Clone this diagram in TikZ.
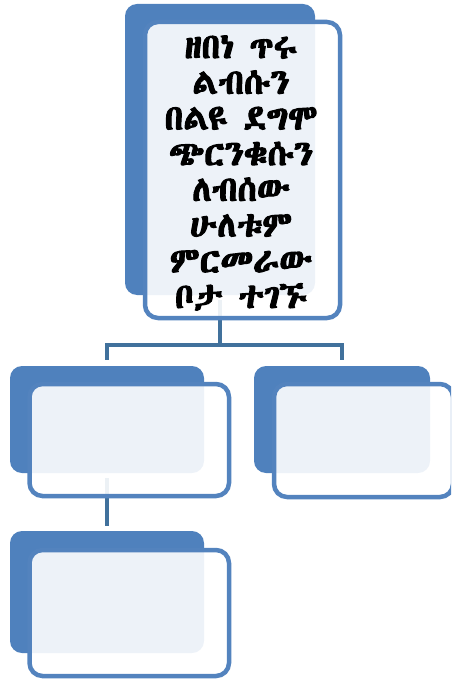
\documentclass[tikz,border=0pt]{standalone}
\usepackage{fontspec}
\IfFontExistsTF{Abyssinica SIL}{\newfontfamily\ethfont[AutoFakeBold=3]{Abyssinica SIL}}{%
  \IfFontExistsTF{FreeSerif}{\newfontfamily\ethfont[AutoFakeBold=3]{FreeSerif}}{\newfontfamily\ethfont{DejaVu Sans}}}
\definecolor{dkblue}{HTML}{4F81BD}
\definecolor{lnblue}{HTML}{41719C}
\definecolor{brblue}{HTML}{5383BE}
\tikzset{
  backbox/.style={fill=dkblue, draw=none, rounded corners=12pt, inner sep=0pt},
  frontbox/.style={fill=white, fill opacity=0.9, draw=brblue, draw opacity=1, line width=4.5pt, rounded corners=13pt, inner sep=0pt},
  conn/.style={draw=lnblue, line width=4pt},
  lbl/.style={align=center, text=black, font=\ethfont\bfseries\fontsize{35}{35.7}\selectfont}
}
\begin{document}
\begin{tikzpicture}[x=1pt,y=-1pt]
\useasboundingbox (0,0) rectangle (451,679);
\begin{scope}
\clip (0,0) rectangle (451,679);
% back shapes (named for connectors)
\node[backbox, minimum width=190pt, minimum height=291pt] (dt) at (220,149.5) {};
\node[backbox, minimum width=194pt, minimum height=107pt] (dl) at (107,419.5) {};
\node[backbox, minimum width=176pt, minimum height=107pt] (dr) at (342,419.5) {};
\node[backbox, minimum width=194pt, minimum height=122pt] (dg) at (107,592) {};
% connectors (behind front boxes)
\coordinate (j) at (220,345);
\draw[conn] ([yshift=-5pt]dt.south) -- (j);
\draw[conn] ([yshift=6pt]dl.north) |- (j) -| ([yshift=6pt]dr.north);
\draw[conn] ([yshift=-5pt]dl.south) -- ([yshift=5pt]dg.north);
% front shapes
\node[frontbox, minimum width=195pt, minimum height=296pt] (ft) at (242.5,170) {};
\node[frontbox, minimum width=199.5pt, minimum height=112pt] (fl) at (129.25,440) {};
\node[frontbox, minimum width=179pt, minimum height=113pt] (fr) at (363.5,440.5) {};
\node[frontbox, minimum width=199.5pt, minimum height=126pt] (fg) at (129.25,613) {};
\end{scope}
% text
\node[lbl] (txt) at (241,173) {ዘበነ ጥሩ\\ልብሱን\\በልዩ ደግሞ\\ጭርንቁሱን\\ለብሰው\\ሁለቱም\\ምርመራው\\ቦታ ተገኙ};
\end{tikzpicture}
\end{document}
